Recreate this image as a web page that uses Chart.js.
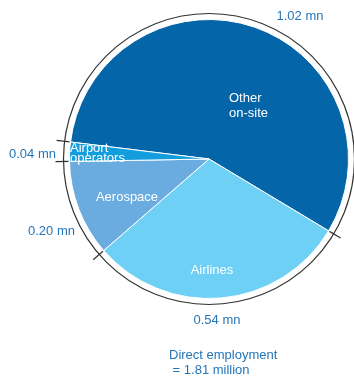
<!DOCTYPE html>
<html>
<head>
<meta charset="utf-8">
<script src="https://cdn.jsdelivr.net/npm/chart.js@4"></script>
<style>
  html, body { margin: 0; padding: 0; background: #fff; }
  #wrap { width: 354px; height: 376px; position: relative; }
</style>
</head>
<body>
<div id="wrap"><canvas id="jobsPie" width="354" height="376"></canvas></div>
<script>
// Direct employment by sector, millions of jobs
const sectors = ['Other on-site', 'Airlines', 'Aerospace', 'Airport operators'];
const jobs = [1.02, 0.54, 0.20, 0.04];
const valueLabels = ['1.02 mn', '0.54 mn', '0.20 mn', '0.04 mn'];
const totalLabel = ['Direct employment', ' = 1.81 million'];

const sliceColors = ['#0465a9', '#6fd0f6', '#6aacdf', '#139ddc'];
const textBlue = '#2475b9';
const FONT = '"Liberation Sans", Arial, sans-serif';

// label offsets from the pie centre (px)
const insideText = [
  { lines: ['Other', 'on-site'], dx: 20, dy: -61, align: 'left', lh: 15, size: 13 },
  { lines: ['Airlines'], dx: 3, dy: 111, align: 'center', lh: 14, size: 13 },
  { lines: ['Aerospace'], dx: -82, dy: 38, align: 'center', lh: 14, size: 13 },
  { lines: ['Airport', 'operators'], dx: -139, dy: -11, align: 'left', lh: 10, size: 13 }
];
const outsideText = [
  { dx: 91, dy: -143, align: 'center' },
  { dx: 8, dy: 161, align: 'center' },
  { dx: -134, dy: 72, align: 'right' },
  { dx: -153, dy: -5, align: 'right' }
];

// thin ring round the pie with ticks at each slice boundary
const ringPlugin = {
  id: 'ring',
  afterDatasetsDraw(chart) {
    const ctx = chart.ctx;
    const arcs = chart.getDatasetMeta(0).data;
    const cx = arcs[0].x, cy = arcs[0].y;
    const r = arcs[0].outerRadius;
    ctx.save();
    ctx.strokeStyle = '#333';
    ctx.lineWidth = 1.2;
    ctx.beginPath();
    ctx.arc(cx, cy, r + 6, 0, Math.PI * 2);
    ctx.stroke();
    arcs.forEach(a => {
      const ang = a.startAngle;
      ctx.beginPath();
      ctx.moveTo(cx + Math.cos(ang) * (r + 1), cy + Math.sin(ang) * (r + 1));
      ctx.lineTo(cx + Math.cos(ang) * (r + 14), cy + Math.sin(ang) * (r + 14));
      ctx.stroke();
    });

    // slice names inside the pie
    ctx.textBaseline = 'middle';
    insideText.forEach(t => {
      ctx.fillStyle = '#fff';
      ctx.font = t.size + 'px ' + FONT;
      ctx.textAlign = t.align;
      t.lines.forEach((line, i) => {
        ctx.fillText(line, cx + t.dx, cy + t.dy + i * t.lh);
      });
    });

    // values outside the ring
    ctx.fillStyle = textBlue;
    ctx.font = '13px ' + FONT;
    outsideText.forEach((t, i) => {
      ctx.textAlign = t.align;
      ctx.fillText(valueLabels[i], cx + t.dx, cy + t.dy);
    });

    // total note below the pie
    ctx.textAlign = 'left';
    ctx.fillText(totalLabel[0], cx - 40, cy + 196);
    ctx.fillText(totalLabel[1], cx - 40, cy + 211);
    ctx.restore();
  }
};

new Chart(document.getElementById('jobsPie'), {
  type: 'pie',
  data: {
    labels: sectors,
    datasets: [{
      data: jobs,
      backgroundColor: sliceColors,
      borderColor: '#fff',
      borderWidth: 1
    }]
  },
  options: {
    responsive: false,
    animation: false,
    rotation: 277,
    layout: { padding: { left: 69, right: 5, top: 19, bottom: 77 } },
    plugins: {
      legend: { display: false },
      tooltip: { enabled: false }
    }
  },
  plugins: [ringPlugin]
});
</script>
</body>
</html>
